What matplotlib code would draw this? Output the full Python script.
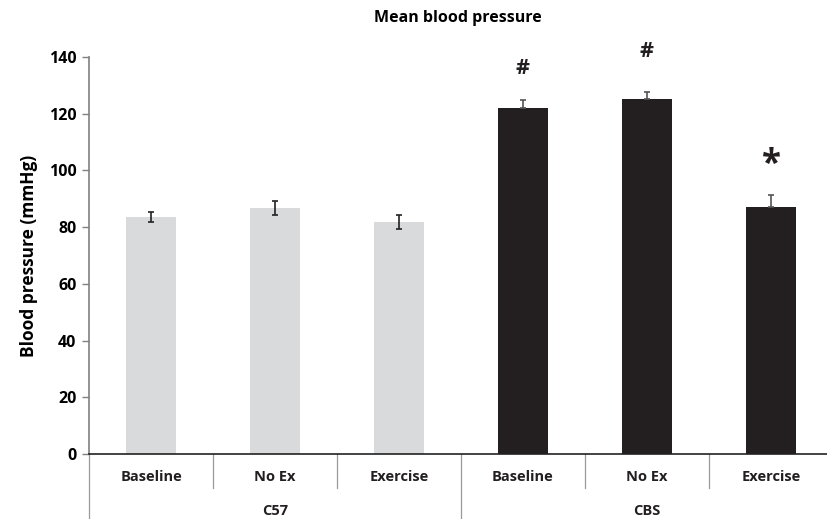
import matplotlib
matplotlib.use("Agg")
import matplotlib.pyplot as plt
import matplotlib.transforms as mtransforms

plt.rcParams['font.family'] = ['Open Sans', 'DejaVu Sans']

conditions = ["Baseline", "No Ex", "Exercise", "Baseline", "No Ex", "Exercise"]
groups = ["C57", "CBS"]
values = [83.6, 86.7, 81.8, 122.1, 125.3, 87.2]
errors = [1.7, 2.4, 2.6, 2.7, 2.2, 4.2]
colors = ["#D9DADC"] * 3 + ["#231F20"] * 3
marks = ["", "", "", "#", "#", "*"]
mark_y = [None, None, None, 136, 142, 105]
yticks = [0, 20, 40, 60, 80, 100, 120, 140]

W, H = 827, 519
fig = plt.figure(figsize=(W / 100, H / 100), dpi=100)
ax = fig.add_axes([89 / W, (H - 454) / H, 744 / W, 397 / H])

x = [i + 0.5 for i in range(len(values))]
ax.bar(x, values, width=0.41, color=colors, zorder=2)
ax.errorbar(x[:3], values[:3], yerr=errors[:3], fmt='none', ecolor='#222222',
            elinewidth=1.2, capsize=2.5, capthick=1.2, zorder=3)
ax.errorbar(x[3:], values[3:], yerr=[[0] * 3, errors[3:]], fmt='none', ecolor='#555555',
            elinewidth=1.2, capsize=2.5, capthick=1.2, zorder=3)

for xi, m, my in zip(x, marks, mark_y):
    if m:
        fs = 15.5 if m == '#' else 25
        dy = 0 if m == '#' else -3
        ax.text(xi, my + dy, m, ha='center', va='center', fontsize=fs,
                fontweight='bold', color='#231F20')

ax.set_xlim(0, 6)
ax.set_ylim(0, 140)
ax.set_yticks(yticks)
ax.set_yticklabels([str(t) for t in yticks], fontsize=11.5, fontweight='bold')
ax.set_xticks([])
for s in ['top', 'right', 'bottom']:
    ax.spines[s].set_visible(False)
ax.spines['left'].set_color('#808080')
ax.spines['left'].set_linewidth(1.2)
ax.tick_params(axis='y', length=5, width=1, color='#808080', pad=4)
ax.axhline(0, color='#222222', lw=1.2, zorder=4, clip_on=False)

trans = mtransforms.blended_transform_factory(ax.transData, ax.transAxes)
short = -34 / 397
long_ = -66 / 397
for xs in [1, 2, 4, 5]:
    ax.plot([xs, xs], [0, short], transform=trans, color='#999999', lw=0.9, clip_on=False)
for xs in [0, 3, 6]:
    ax.plot([xs, xs], [0, long_], transform=trans, color='#999999', lw=0.9, clip_on=False)

for xi, c in zip(x, conditions):
    ax.text(xi, -23 / 397, c, transform=trans, ha='center', va='center',
            fontsize=10.5, fontweight='bold', color='#231F20')
for gi, g in enumerate(groups):
    ax.text(1.5 + 3 * gi, -57 / 397, g, transform=trans, ha='center', va='center',
            fontsize=10.5, fontweight='bold', color='#231F20')

ax.set_ylabel("Blood pressure (mmHg)", fontsize=12.5, fontweight='bold', labelpad=8)
fig.text(458 / W, 1 - 18 / H, "Mean blood pressure", ha='center', va='center',
         fontsize=11.5, fontweight='bold')

fig.savefig("out.png", dpi=100)
